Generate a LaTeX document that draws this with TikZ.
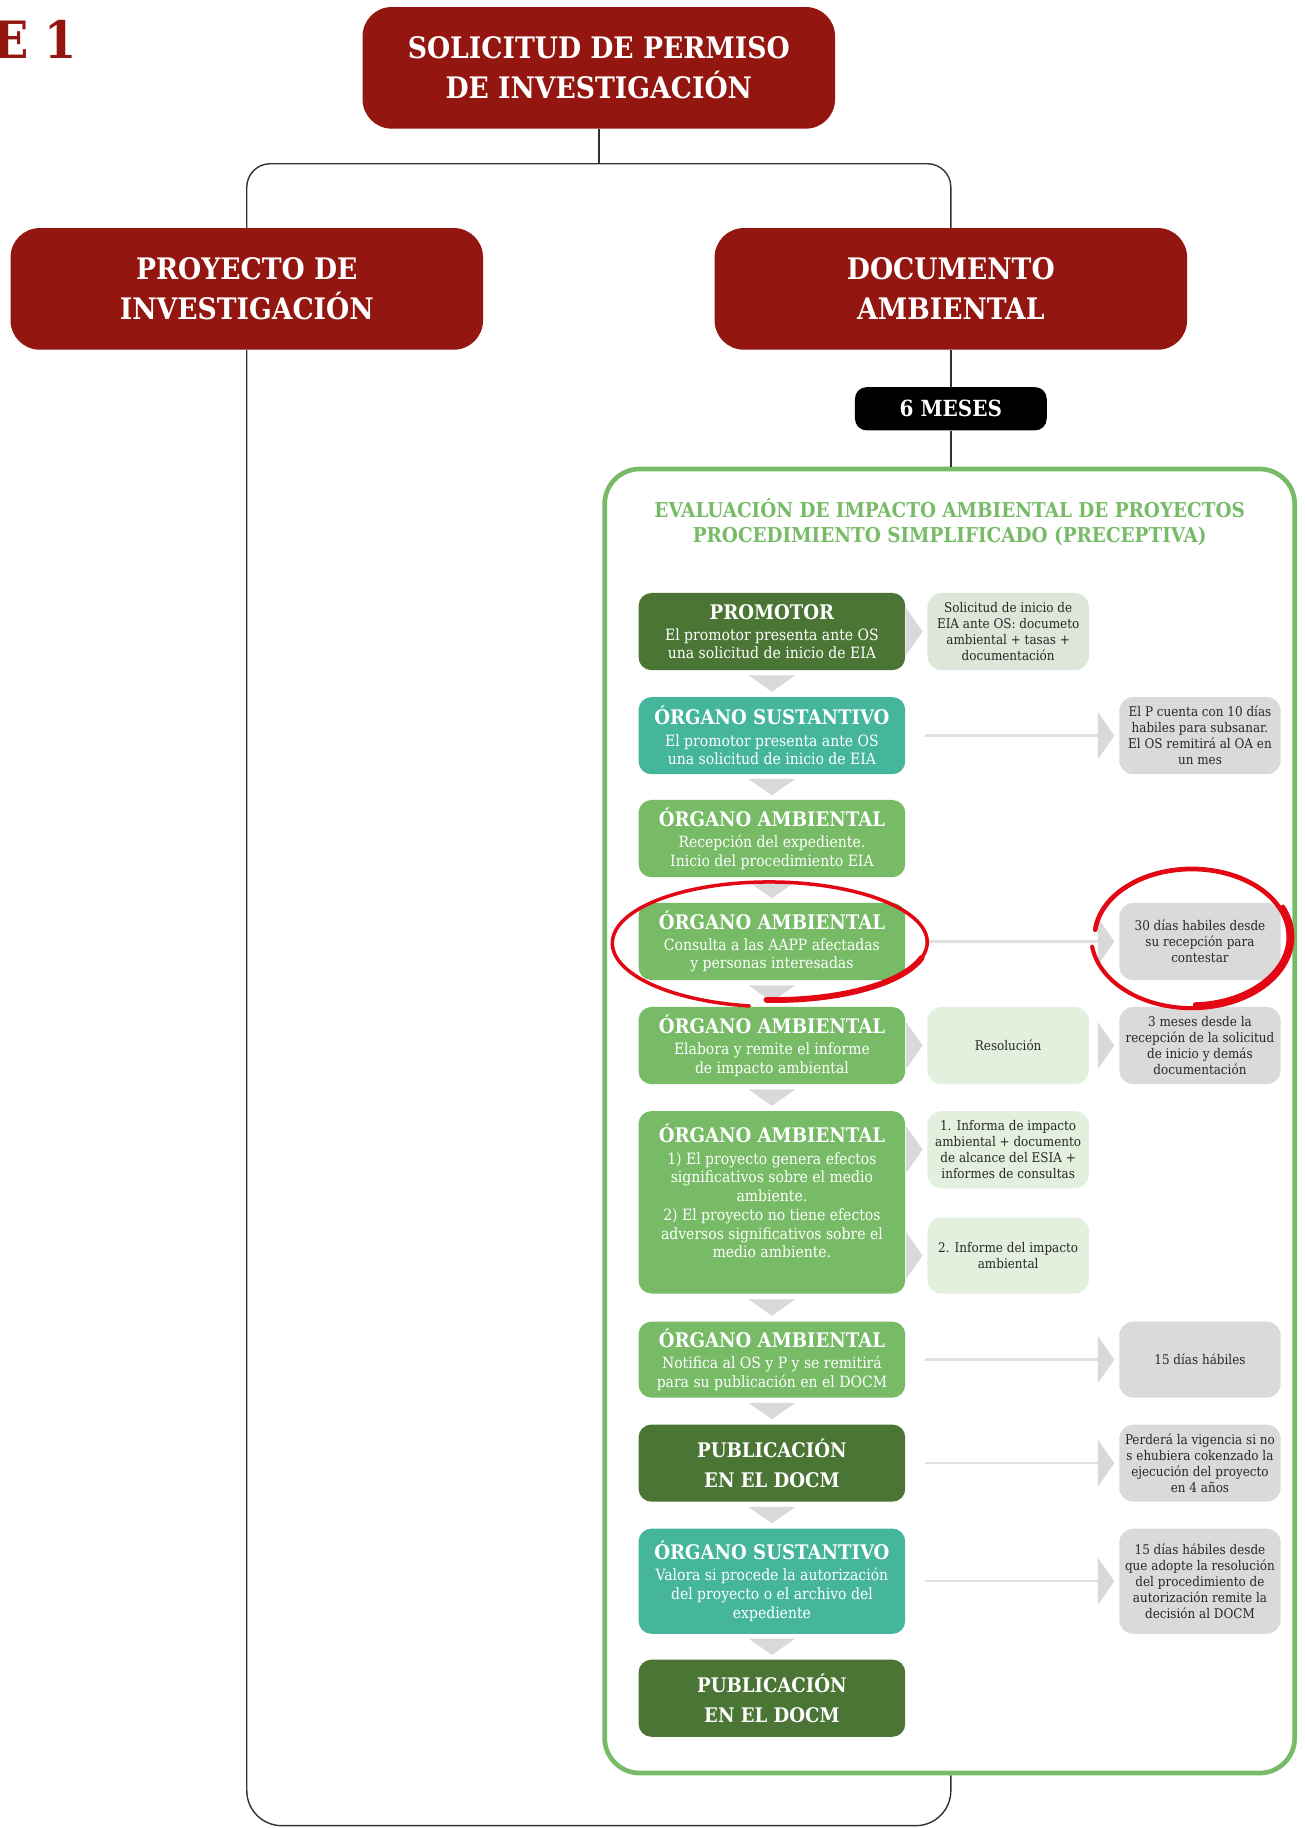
\documentclass[tikz,border=0pt]{standalone}
\usepackage{fontspec}
\setmainfont{DejaVu Serif Condensed}
\usetikzlibrary{calc}
\definecolor{dred}{RGB}{147,22,17}
\definecolor{dgrn}{RGB}{74,117,53}
\definecolor{teal2}{RGB}{69,182,156}
\definecolor{grn}{RGB}{119,187,102}
\definecolor{trig}{RGB}{217,217,217}
\definecolor{lgray}{RGB}{218,218,218}
\definecolor{mg1}{RGB}{222,230,218}
\definecolor{mg2}{RGB}{228,240,222}
\definecolor{glc}{RGB}{224,224,224}
\definecolor{lineg}{RGB}{50,50,50}
\definecolor{txt}{RGB}{40,40,40}
\definecolor{redc}{RGB}{227,6,19}
\newcommand\ttlf{\fontsize{17.2}{16}\selectfont\bfseries}
\newcommand\bodyf{\fontsize{13.3}{16}\selectfont}
\newcommand\sidef{\fontsize{11.4}{13.7}\selectfont}
\newcommand\bigtf{\fontsize{25.3}{34}\selectfont\bfseries}
\begin{document}
\begin{tikzpicture}[x=1pt,y=-1pt,
  conn/.style={draw=lineg, line width=1.2pt},
  redbox/.style={fill=dred, rounded corners=25pt, minimum width=404pt, minimum height=104pt, text=white, align=center, font=\bigtf, inner sep=0pt},
  stepbox/.style={rounded corners=11pt, minimum width=228pt, minimum height=66pt, text=white, align=center, font=\bodyf, inner sep=0pt},
  midbox/.style={rounded corners=12pt, minimum width=138pt, minimum height=66pt, align=center, font=\sidef, text=txt, inner sep=0pt},
  rbox/.style={midbox, fill=lgray},
  tri/.style={fill=trig},
  gline/.style={draw=glc, line width=2pt},
  redl/.style={draw=redc, line cap=round, line join=round}]
\useasboundingbox (0,0) rectangle (1115,1563);

% top level
\node[anchor=base east, inner sep=0pt, text=dred, font=\fontsize{44}{44}\selectfont\bfseries] (fase) at (66,50) {FASE 1};
\node[redbox] (sol) at (512,58) {SOLICITUD DE PERMISO\\DE INVESTIGACIÓN};
\node[redbox] (proy) at (211,247) {PROYECTO DE\\INVESTIGACIÓN};
\node[redbox] (doc) at (813,247) {DOCUMENTO\\AMBIENTAL};
\node[fill=black, rounded corners=10pt, minimum width=164pt, minimum height=37pt, text=white, font=\fontsize{19}{20}\selectfont\bfseries, inner sep=0pt] (mes) at (813,349.5) {6 MESES};

% green frame
\node[draw=grn, line width=4pt, rounded corners=30pt, minimum width=590pt, minimum height=1115pt, inner sep=0pt, fill=white] (frame) at (812,958.5) {};
\node[text=grn, font=\fontsize{17.5}{21}\selectfont\bfseries, align=center, inner sep=0pt] (ttl) at (812,446.5) {EVALUACIÓN DE IMPACTO AMBIENTAL DE PROYECTOS\\PROCEDIMIENTO SIMPLIFICADO (PRECEPTIVA)};

% connectors
\coordinate (j) at (512,140);
\coordinate (bot) at (512,1561);
\draw[conn] (sol.south) -- (j);
\draw[conn, rounded corners=20pt] (proy.north) |- (j) -| (doc.north);
\draw[conn] (doc.south) -- (mes.north);
\draw[conn] (mes.south) -- (mes.south |- frame.north);
\draw[conn, rounded corners=30pt] (proy.south) |- (bot) -| (mes.south |- frame.south);

% left column
\node[stepbox, fill=dgrn] (b1) at (660,540) {{\ttlf PROMOTOR}\\[2pt]El promotor presenta ante OS\\una solicitud de inicio de EIA};
\node[stepbox, fill=teal2] (b2) at (660,629) {{\ttlf ÓRGANO SUSTANTIVO}\\[2pt]El promotor presenta ante OS\\una solicitud de inicio de EIA};
\node[stepbox, fill=grn] (b3) at (660,717) {{\ttlf ÓRGANO AMBIENTAL}\\[2pt]Recepción del expediente.\\Inicio del procedimiento EIA};
\node[stepbox, fill=grn] (b4) at (660,805) {{\ttlf ÓRGANO AMBIENTAL}\\[2pt]Consulta a las AAPP afectadas\\y personas interesadas};
\node[stepbox, fill=grn] (b5) at (660,894) {{\ttlf ÓRGANO AMBIENTAL}\\[2pt]Elabora y remite el informe\\de impacto ambiental};
\node[stepbox, fill=grn, minimum height=156pt] (b6) at (660,1028) {{\ttlf ÓRGANO AMBIENTAL}\\[3pt]1) El proyecto genera efectos\\significativos sobre el medio\\ambiente.\\2) El proyecto no tiene efectos\\adversos significativos sobre el\\medio ambiente.\\[4pt]};
\node[stepbox, fill=grn, minimum height=65pt] (b7) at (660,1162.5) {{\ttlf ÓRGANO AMBIENTAL}\\[2pt]Notifica al OS y P y se remitirá\\para su publicación en el DOCM};
\node[stepbox, fill=dgrn] (b8) at (660,1251) {{\ttlf PUBLICACIÓN}\\[10pt]{\ttlf EN EL DOCM}};
\node[stepbox, fill=teal2, minimum height=90pt] (b9) at (660,1352) {{\ttlf ÓRGANO SUSTANTIVO}\\[2pt]Valora si procede la autorización\\del proyecto o el archivo del\\expediente};
\node[stepbox, fill=dgrn] (b10) at (660,1452) {{\ttlf PUBLICACIÓN}\\[10pt]{\ttlf EN EL DOCM}};

\foreach \a/\b in {b1/b2,b2/b3,b3/b4,b4/b5,b5/b6,b6/b7,b7/b8,b8/b9,b9/b10}
  {\fill[tri] ($(\a.south)!.5!(\b.north)$) ++(-20,-7) -- ++(40,0) -- ++(-20,14) -- cycle;}

% middle column
\node[midbox, fill=mg1] (m1) at (862,540) {Solicitud de inicio de\\EIA ante OS: documeto\\ambiental + tasas +\\documentación};
\node[midbox, fill=mg2] (m5) at (862,894) {Resolución};
\node[midbox, fill=mg2] (m6a) at (862,983) {1. Informa de impacto\\ambiental + documento\\de alcance del ESIA +\\informes de consultas};
\node[midbox, fill=mg2, minimum height=65pt] (m6b) at (862,1073.5) {2. Informe del impacto\\ambiental};

% right column
\node[rbox] (r2) at (1026,629) {El P cuenta con 10 días\\habiles para subsanar.\\El OS remitirá al OA en\\un mes};
\node[rbox] (r4) at (1026,805) {30 días habiles desde\\su recepción para\\contestar};
\node[rbox] (r5) at (1026,894) {3 meses desde la\\recepción de la solicitud\\de inicio y demás\\documentación};
\node[rbox, minimum height=65pt] (r7) at (1026,1162.5) {15 días hábiles};
\node[rbox] (r8) at (1026,1251) {Perderá la vigencia si no\\s ehubiera cokenzado la\\ejecución del proyecto\\en 4 años};
\node[rbox, minimum height=90pt] (r9) at (1026,1352) {15 días hábiles desde\\que adopte la resolución\\del procedimiento de\\autorización remite la\\decisión al DOCM};

\foreach \l/\r in {b2/r2,b4/r4,b7/r7,b8/r8,b9/r9}
  {\draw[gline] ([xshift=17pt]\l.east) -- ([xshift=-18pt]\r.west);}
\foreach \n in {m1,m5,m6a,m6b,r2,r4,r5,r7,r8,r9}
  {\fill[tri] ([xshift=-4pt]\n.west) -- ++(-14,-20) -- ++(0,40) -- cycle;}

% red hand-drawn marks
\draw[redl, line width=3pt] plot[domain=92:-262, samples=120, variable=\t] ({660+(131+(92-\t)*0.02)*cos(\t)}, {806+(49+(92-\t)*0.016)*sin(\t)});
\draw[redl, line width=5pt] plot[domain=92:15, samples=40, variable=\t] ({660+(131+(92-\t)*0.02)*cos(\t)}, {806+(49+(92-\t)*0.016)*sin(\t)});
\draw[redl, line width=4pt] plot[domain=186:448, samples=100, variable=\t] ({1019+83*cos(\t)}, {801+58*sin(\t)});
\draw[redl, line width=3.5pt] plot[domain=172:-25, samples=100, variable=\t] ({1019+86*cos(\t)}, {801+61*sin(\t)});
\end{tikzpicture}
\end{document}
